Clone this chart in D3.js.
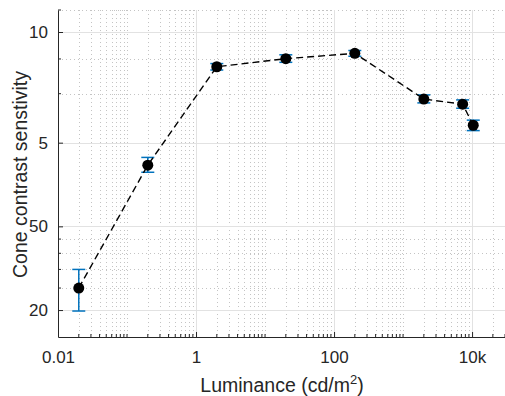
<!DOCTYPE html>
<html>
<head>
<meta charset="utf-8">
<script src="https://cdn.jsdelivr.net/npm/d3@7"></script>
<style>
  html, body { margin: 0; padding: 0; background: #fff; overflow: hidden; }
  svg { display: block; font-family: "Liberation Sans", Arial, Helvetica, sans-serif; }
</style>
</head>
<body>
<div id="chart"></div>
<script>
// ---- Data ----
const luminance = [0.02, 0.2, 2, 20, 200, 2000, 7300, 10400];
const sensitivity = [6.0, 16.6, 37.5, 40.1, 41.9, 28.7, 27.5, 23.1];
const errLow = [4.96, 15.65, 36.5, 38.9, 40.9, 27.8, 26.6, 22.1];
const errHigh = [7.0, 17.7, 38.5, 41.4, 42.9, 29.7, 28.5, 24.1];

const xTickValues = [0.01, 1, 100, 10000];
const xTickLabels = ["0.01", "1", "100", "10k"];
const yTickValues = [5, 10, 20, 50];
const yTickLabels = ["20", "50", "5", "10"];
const yMinorValues = [6, 7, 8, 9, 30, 40, 60];

const width = 505;
const height = 396;
const margin = { top: 10, right: 0, bottom: 59, left: 58 };
const chartWidth = width - margin.left - margin.right;
const chartHeight = height - margin.top - margin.bottom;

const svg = d3.select("#chart")
  .append("svg")
  .attr("width", width)
  .attr("height", height);

const g = svg.append("g")
  .attr("transform", `translate(${margin.left},${margin.top})`);

const x = d3.scaleLog().domain([0.01, 30000]).range([0, chartWidth]);
const y = d3.scaleLog().domain([4, 60]).range([chartHeight, 0]);

// minor x positions: 1..9 of every decade, minus the labelled ones
const xMinorValues = [];
for (let e = -2; e <= 4; e++) {
  for (let k = 1; k <= 9; k++) {
    const v = k * Math.pow(10, e);
    if (v <= 30000 && !xTickValues.includes(v)) xMinorValues.push(v);
  }
}

// ---- Grid ----
const minorStyle = sel => sel
  .attr("stroke", "#c4c4c4")
  .attr("stroke-width", 1)
  .attr("stroke-dasharray", "1,3");

g.append("g").selectAll("line")
  .data(xMinorValues)
  .join("line")
  .attr("x1", d => Math.round(x(d)) + 0.5).attr("x2", d => Math.round(x(d)) + 0.5)
  .attr("y1", 0).attr("y2", chartHeight)
  .call(minorStyle);

g.append("g").selectAll("line")
  .data(yMinorValues)
  .join("line")
  .attr("x1", 0).attr("x2", chartWidth)
  .attr("y1", d => Math.round(y(d)) + 0.5).attr("y2", d => Math.round(y(d)) + 0.5)
  .call(minorStyle);

g.append("g").selectAll("line")
  .data(xTickValues)
  .join("line")
  .attr("x1", d => Math.round(x(d)) + 0.5).attr("x2", d => Math.round(x(d)) + 0.5)
  .attr("y1", 0).attr("y2", chartHeight)
  .attr("stroke", "#e2e2e2");

g.append("g").selectAll("line")
  .data(yTickValues)
  .join("line")
  .attr("x1", 0).attr("x2", chartWidth)
  .attr("y1", d => Math.round(y(d)) + 0.5).attr("y2", d => Math.round(y(d)) + 0.5)
  .attr("stroke", "#e2e2e2");

// ---- Axes ----
const axisColor = "#262626";

const xAxisG = g.append("g")
  .attr("transform", `translate(0,${chartHeight})`)
  .call(d3.axisBottom(x)
    .tickValues(xTickValues)
    .tickFormat((d, i) => xTickLabels[i])
    .tickSize(-5)
    .tickSizeOuter(0)
    .tickPadding(14));

const yAxisG = g.append("g")
  .call(d3.axisLeft(y)
    .tickValues(yTickValues)
    .tickFormat((d, i) => yTickLabels[i])
    .tickSize(-5)
    .tickSizeOuter(0)
    .tickPadding(10));

[xAxisG, yAxisG].forEach(a => {
  a.select(".domain").attr("stroke", axisColor);
  a.selectAll(".tick line").attr("stroke", axisColor);
  a.selectAll(".tick text")
    .attr("fill", axisColor)
    .attr("font-size", 17)
    .attr("font-family", "Liberation Sans, Arial, sans-serif");
});

// minor ticks
xAxisG.append("g").selectAll("line")
  .data(xMinorValues)
  .join("line")
  .attr("x1", d => x(d)).attr("x2", d => x(d))
  .attr("y1", 0).attr("y2", -3)
  .attr("stroke", axisColor);

yAxisG.append("g").selectAll("line")
  .data(yMinorValues)
  .join("line")
  .attr("x1", 0).attr("x2", 3)
  .attr("y1", d => y(d)).attr("y2", d => y(d))
  .attr("stroke", axisColor);

// ---- Axis labels ----
const xLabel = svg.append("text")
  .attr("x", margin.left + 224)
  .attr("y", 392)
  .attr("text-anchor", "middle")
  .attr("font-size", 19.5)
  .attr("fill", axisColor);
xLabel.append("tspan").text("Luminance (cd/m");
xLabel.append("tspan").attr("dy", -8).attr("font-size", 13).text("2");
xLabel.append("tspan").attr("dy", 8).text(")");

svg.append("text")
  .attr("transform", `translate(27,${margin.top + chartHeight / 2 + 1}) rotate(-90)`)
  .attr("text-anchor", "middle")
  .attr("font-size", 19.5)
  .attr("fill", axisColor)
  .text("Cone contrast senstivity");

// ---- Data marks ----
const points = luminance.map((d, i) => ({
  x: d, y: sensitivity[i], lo: errLow[i], hi: errHigh[i]
}));

const errColor = "#0072BD";
const cap = 6.5;
const eb = g.append("g")
  .attr("stroke", errColor)
  .attr("stroke-width", 1.5);

eb.selectAll(".stem")
  .data(points)
  .join("line")
  .attr("class", "stem")
  .attr("x1", d => x(d.x)).attr("x2", d => x(d.x))
  .attr("y1", d => y(d.lo)).attr("y2", d => y(d.hi));

eb.selectAll(".capHi")
  .data(points)
  .join("line")
  .attr("class", "capHi")
  .attr("x1", d => x(d.x) - cap).attr("x2", d => x(d.x) + cap)
  .attr("y1", d => y(d.hi)).attr("y2", d => y(d.hi));

eb.selectAll(".capLo")
  .data(points)
  .join("line")
  .attr("class", "capLo")
  .attr("x1", d => x(d.x) - cap).attr("x2", d => x(d.x) + cap)
  .attr("y1", d => y(d.lo)).attr("y2", d => y(d.lo));

const line = d3.line()
  .x(d => x(d.x))
  .y(d => y(d.y));

g.append("path")
  .datum(points)
  .attr("fill", "none")
  .attr("stroke", "#000")
  .attr("stroke-width", 1.4)
  .attr("stroke-dasharray", "7,4")
  .attr("d", line);

g.append("g").selectAll("circle")
  .data(points)
  .join("circle")
  .attr("cx", d => x(d.x))
  .attr("cy", d => y(d.y))
  .attr("r", 5.5)
  .attr("fill", "#000");
</script>
</body>
</html>
